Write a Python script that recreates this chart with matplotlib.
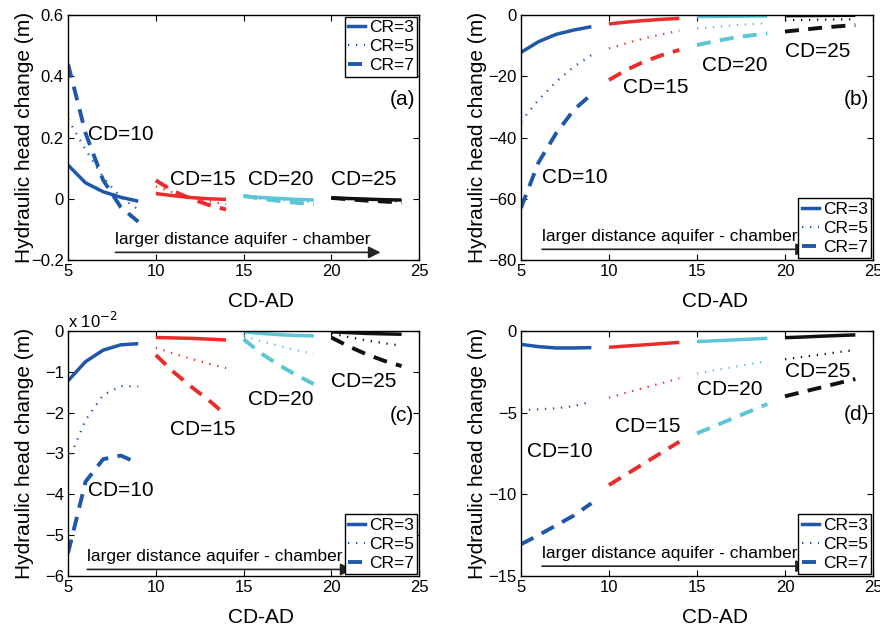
import numpy as np
import matplotlib.pyplot as plt
from matplotlib.lines import Line2D

plt.rcParams['font.family'] = ['Liberation Sans', 'DejaVu Sans']
plt.rcParams['axes.linewidth'] = 1.0
plt.rcParams['xtick.direction'] = 'in'
plt.rcParams['ytick.direction'] = 'in'
plt.rcParams['xtick.top'] = True
plt.rcParams['ytick.right'] = True
plt.rcParams['xtick.major.size'] = 4
plt.rcParams['ytick.major.size'] = 4
plt.rcParams['xtick.labelsize'] = 12
plt.rcParams['ytick.labelsize'] = 12

# x positions (CD-AD), 4 segments of 5 points: CD=10, 15, 20, 25
cd_values = [10, 15, 20, 25]
x_seg = [[5, 6, 7, 8, 9], [10, 11, 12, 13, 14], [15, 16, 17, 18, 19], [20, 21, 22, 23, 24]]
seg_colors = ['#1f58a8', '#ee2b2b', '#5cc6d6', '#111111']

# (a) hydraulic head change (m)
a_cr3 = [0.11, 0.052, 0.023, 0.005, -0.008, 0.017, 0.010, 0.004, 0.0, -0.002,
         0.008, 0.004, 0.001, -0.002, -0.004, 0.003, 0.001, -0.001, -0.003, -0.004]
a_cr5 = [0.26, 0.16, 0.07, 0.005, -0.035, 0.04, 0.02, 0.005, -0.008, -0.018,
         0.006, 0.0, -0.004, -0.008, -0.011, 0.002, -0.001, -0.004, -0.006, -0.008]
a_cr7 = [0.44, 0.214, 0.061, -0.027, -0.075, 0.06, 0.025, 0.0, -0.02, -0.035,
         0.01, 0.0, -0.007, -0.013, -0.018, 0.003, -0.002, -0.006, -0.009, -0.012]

# (b)
b_cr3 = [-12.2, -8.7, -6.3, -4.9, -3.8, -2.9, -2.3, -1.8, -1.4, -1.1,
         -0.5, -0.45, -0.4, -0.35, -0.3, -0.2, -0.18, -0.15, -0.12, -0.1]
b_cr5 = [-34.8, -27.7, -21.8, -16.9, -13.1, -10.9, -9.2, -7.6, -6.3, -5.1,
         -4.4, -3.9, -3.4, -3.0, -2.7, -1.7, -1.6, -1.5, -1.45, -1.4]
b_cr7 = [-63.0, -48.1, -38.6, -31.0, -25.9, -21.2, -17.9, -15.2, -13.1, -11.4,
         -9.8, -8.6, -7.5, -6.7, -6.0, -5.4, -4.8, -4.2, -3.7, -3.3]

# (c) in units of 1e-2 m
c_cr3 = [-1.22, -0.75, -0.47, -0.34, -0.31, -0.16, -0.17, -0.18, -0.20, -0.22,
         -0.02, -0.06, -0.09, -0.11, -0.12, -0.02, -0.04, -0.06, -0.07, -0.08]
c_cr5 = [-3.2, -2.18, -1.57, -1.35, -1.36, -0.41, -0.55, -0.68, -0.80, -0.91,
         -0.12, -0.25, -0.36, -0.47, -0.56, -0.06, -0.15, -0.23, -0.30, -0.36]
c_cr7 = [-5.44, -3.69, -3.14, -3.05, -3.24, -0.59, -1.0, -1.36, -1.69, -2.06,
         -0.2, -0.55, -0.83, -1.08, -1.3, -0.16, -0.38, -0.57, -0.73, -0.86]

# (d)
d_cr3 = [-0.82, -0.96, -1.04, -1.04, -1.02, -1.0, -0.92, -0.85, -0.77, -0.7,
         -0.65, -0.6, -0.55, -0.5, -0.45, -0.41, -0.37, -0.32, -0.28, -0.24]
d_cr5 = [-4.84, -4.8, -4.73, -4.6, -4.33, -4.08, -3.78, -3.48, -3.19, -2.9,
         -2.6, -2.41, -2.22, -2.03, -1.84, -1.73, -1.59, -1.45, -1.3, -1.16]
d_cr7 = [-13.06, -12.5, -11.9, -11.3, -10.55, -9.43, -8.77, -8.1, -7.44, -6.78,
         -6.27, -5.82, -5.37, -4.92, -4.47, -4.0, -3.73, -3.47, -3.2, -2.94]

styles = {
    'CR=3': dict(linestyle='-', linewidth=2.5),
    'CR=5': dict(linestyle=(0, (0.6, 3.0)), linewidth=1.6),
    'CR=7': dict(linestyle=(0, (3.6, 2.4)), linewidth=2.8),
}

panels = [
    dict(tag='(a)', data=[a_cr3, a_cr5, a_cr7], ylim=(-0.2, 0.6), yticks=[-0.2, 0, 0.2, 0.4, 0.6],
         ylabels=['\u22120.2', '0', '0.2', '0.4', '0.6'], legend_loc='upper right',
         cd_pos=[(6.15, 0.21), (10.8, 0.064), (15.25, 0.064), (20.0, 0.064)], tag_pos=(24.8, 0.325),
         arrow=(7.7, 22.8, -0.175), rect=[0.0773, 0.5866, 0.399, 0.3895]),
    dict(tag='(b)', data=[b_cr3, b_cr5, b_cr7], ylim=(-80, 0), yticks=[-80, -60, -40, -20, 0],
         ylabels=['\u221280', '\u221260', '\u221240', '\u221220', '0'], legend_loc='lower right',
         cd_pos=[(6.18, -53), (10.78, -23.8), (15.27, -16.4), (20.0, -12.0)], tag_pos=(24.8, -27.5),
         arrow=(6.2, 21.3, -76.5), rect=[0.592, 0.5866, 0.4, 0.3895]),
    dict(tag='(c)', data=[c_cr3, c_cr5, c_cr7], ylim=(-6, 0), yticks=[-6, -5, -4, -3, -2, -1, 0],
         ylabels=['\u22126', '\u22125', '\u22124', '\u22123', '\u22122', '\u22121', '0'], legend_loc='lower right',
         cd_pos=[(6.16, -3.9), (10.8, -2.41), (15.25, -1.67), (20.0, -1.24)], tag_pos=(24.7, -2.08),
         arrow=(6.1, 21.2, -5.84), rect=[0.0773, 0.0843, 0.399, 0.3895]),
    dict(tag='(d)', data=[d_cr3, d_cr5, d_cr7], ylim=(-15, 0), yticks=[-15, -10, -5, 0],
         ylabels=['\u221215', '\u221210', '\u22125', '0'], legend_loc='lower right',
         cd_pos=[(5.36, -7.4), (10.34, -5.86), (15.02, -3.6), (20.0, -2.49)], tag_pos=(24.8, -5.14),
         arrow=(6.2, 21.3, -14.4), rect=[0.592, 0.0843, 0.4, 0.3895]),
]

fig = plt.figure(figsize=(8.8, 6.29), dpi=100)

for p in panels:
    ax = fig.add_axes(p['rect'])
    for name, vals in zip(['CR=3', 'CR=5', 'CR=7'], p['data']):
        vals = np.asarray(vals)
        for k, xs in enumerate(x_seg):
            ax.plot(xs, vals[5 * k:5 * k + 5], color=seg_colors[k], solid_capstyle='butt',
                    dash_capstyle='butt', **styles[name])

    ax.set_xlim(5, 25)
    ax.set_ylim(*p['ylim'])
    ax.set_xticks([5, 10, 15, 20, 25])
    ax.set_yticks(p['yticks'])
    ax.set_yticklabels(p['ylabels'])
    ax.set_xlabel('CD-AD', fontsize=15)
    ax.xaxis.set_label_coords(0.55, -0.13)
    ax.set_ylabel('Hydraulic head change (m)', fontsize=15)
    ax.yaxis.set_label_coords(-0.097, 0.5)
    ax.tick_params(axis='both', pad=3)

    for cd, (tx, ty) in zip(cd_values, p['cd_pos']):
        ax.text(tx, ty, 'CD=%d' % cd, fontsize=15, va='center', ha='left')
    ax.text(p['tag_pos'][0], p['tag_pos'][1], p['tag'], fontsize=15, va='center', ha='right')

    x0, x1, ya = p['arrow']
    ax.annotate('', xy=(x1, ya), xytext=(x0, ya),
                arrowprops=dict(arrowstyle='-|>', color='#222222', lw=1.2,
                                mutation_scale=18, shrinkA=0, shrinkB=0))
    ax.annotate('larger distance aquifer - chamber', xy=(x0, ya), xytext=(0, 4),
                textcoords='offset points', fontsize=12.5, ha='left', va='bottom')

    handles = [Line2D([], [], color=seg_colors[0], **styles[n]) for n in ['CR=3', 'CR=5', 'CR=7']]
    leg = ax.legend(handles, ['CR=3', 'CR=5', 'CR=7'], loc=p['legend_loc'], fontsize=12.5,
                    handlelength=1.0, handletextpad=0.2, borderaxespad=0.1, borderpad=0.2,
                    labelspacing=0.22, fancybox=False, framealpha=1, edgecolor='black')
    leg.get_frame().set_linewidth(1.0)

    if p['tag'] == '(c)':
        ax.text(0.0, 1.0, 'x 10$^{\u22122}$', transform=ax.transAxes, fontsize=12,
                ha='left', va='bottom')

fig.savefig('out.png', dpi=100)
